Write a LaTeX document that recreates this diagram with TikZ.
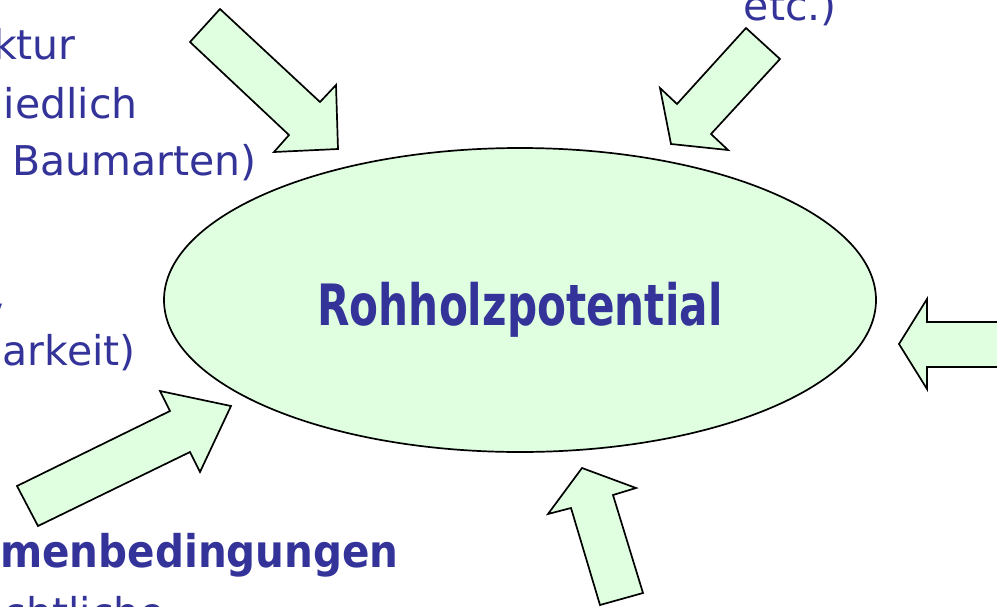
\documentclass[tikz,border=0pt]{standalone}
\usepackage{fontspec}
\setmainfont{DejaVu Sans}
\newfontfamily\sidebold{DejaVu Sans}[FakeStretch=0.9]
\newfontfamily\potbold{DejaVu Sans}[FakeStretch=0.74]
\usetikzlibrary{shapes.geometric}
\definecolor{textblue}{RGB}{51,51,153}
\definecolor{paleleaf}{RGB}{224,255,224}
\tikzset{
    blockarrow/.style={draw=black, fill=paleleaf, line width=1.7pt, line join=miter},
    sidetext/.style={text=textblue, inner sep=0pt, font=\fontsize{41}{48}\selectfont},
    sidehead/.style={text=textblue, inner sep=0pt, font=\sidebold\bfseries\fontsize{45}{52}\selectfont},
    potential/.style={draw=black, line width=1.7pt, fill=paleleaf, ellipse, inner sep=0pt,
        minimum width=712pt, minimum height=304pt, text=textblue,
        font=\potbold\bfseries\fontsize{57}{64}\selectfont, text height=50pt, text depth=0pt}
}
\begin{document}
\begin{tikzpicture}[x=1pt, y=-1pt]
    \useasboundingbox (0,0) rectangle (997,606);
    \clip (0,0) rectangle (997,606);
    \node[potential] (pot) at (520,300) {Rohholzpotential};
    \draw[blockarrow] (190,42) -- (220,9) -- (320,102) -- (336,85) -- (338,149) -- (274,152) -- (289,135) -- cycle;
    \draw[blockarrow] (746,28) -- (780,59) -- (711,134) -- (728,150) -- (671,144) -- (660,88) -- (677,104) -- cycle;
    \draw[blockarrow] (899,344) -- (927,299) -- (927,322) -- (1005,322) -- (1005,367) -- (927,367) -- (927,389) -- cycle;
    \draw[blockarrow] (582,468) -- (636,488) -- (613,495) -- (643,593) -- (600,605) -- (571,508) -- (548,514) -- cycle;
    \draw[blockarrow] (17,486) -- (38,526) -- (190,452) -- (200,472) -- (231,406) -- (160,391) -- (170,411) -- cycle;
    \node[sidetext, anchor=base east] (ktur) at (76,59) {ktur};
    \node[sidetext, anchor=base east] (hied) at (138,118) {hiedlich};
    \node[sidetext, anchor=base east] (baum) at (257,175) {Baumarten)};
    \node[sidetext, anchor=base east] (vv) at (4,326) {v};
    \node[sidetext, anchor=base east] (bark) at (136,365) {barkeit)};
    \node[sidehead, anchor=base west] (rahm) at (0,567) {menbedingungen};
    \node[sidetext, anchor=base east] (recht) at (165,627) {echtliche};
    \node[sidetext, anchor=base east] (etc) at (837,20) {etc.)};
\end{tikzpicture}
\end{document}
